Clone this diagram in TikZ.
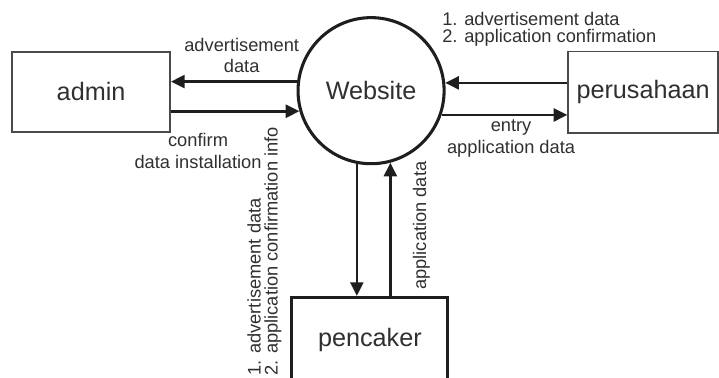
\documentclass[tikz,border=0pt]{standalone}
\usepackage{fontspec}
\setmainfont{Liberation Sans}
\usetikzlibrary{arrows.meta, positioning, calc}

\definecolor{dfdline}{HTML}{1E1E1E}
\definecolor{dfdtext}{HTML}{303030}
\definecolor{dfdbox}{HTML}{4A4A4A}

\tikzset{
  entity/.style={
    draw=dfdbox, line width=1.2pt, fill=white, text=dfdtext,
    font=\fontsize{18.9}{22}\selectfont
  },
  proc/.style={
    circle, draw=dfdline, line width=2.3pt, fill=white, text=dfdtext,
    minimum size=3.85cm, inner sep=0pt, font=\fontsize{18.9}{22}\selectfont
  },
  flow/.style={-{Triangle[length=0.36cm, width=0.34cm]}, line width=2pt, draw=dfdline},
  lbl/.style={inner sep=0pt, align=center, text=dfdtext, font=\fontsize{13.7}{16}\selectfont},
  list/.style={align=left, font=\fontsize{13.7}{12.75}\selectfont}
}

\begin{document}
\begin{tikzpicture}
  \useasboundingbox (0,0) rectangle (18.95,9.96);

  % the system in the middle
  \node[proc] (web) at (9.78,7.57) {Website};

  % external entities
  \node[entity, minimum width=4.17cm, minimum height=2.11cm] (admin) at (2.40,7.54) {admin};
  \node[entity, minimum width=3.95cm, minimum height=2.14cm] (perusahaan) at (16.95,7.53) {perusahaan};
  \node[entity, draw=dfdline, line width=2.3pt, minimum width=4.11cm, inner ysep=0pt,
        text height=1.29cm, text depth=1.2cm, anchor=north] (pencaker) at (9.75,2.16) {pencaker};

  % data flows
  \draw[flow] (web.173.7) -- (web.173.7 -| admin.east);
  \draw[flow] (web.196.7 -| admin.east) -- (web.196.7);
  \draw[flow] (web.6.3 -| perusahaan.west) -- (web.6.3);
  \draw[flow] (web.341.6) -- (web.341.6 -| perusahaan.west);
  \draw[flow] (web.259.7) -- (web.259.7 |- pencaker.north);
  \draw[flow] (web.285.1 |- pencaker.north) -- (web.285.1);

  % flow labels
  \node[lbl] (adminOut) at (6.37,8.49) {advertisement\\data};
  \node[lbl] (adminIn) at (5.22,5.98) {confirm\\data installation};
  \node[lbl, list, anchor=north west] (perusahaanIn) at (11.65,9.65)
    {1. advertisement data\\2. application confirmation};
  \node[lbl] (perusahaanOut) at (13.47,6.31) {entry\\application data};
  \node[lbl, list, rotate=90, anchor=north west] (pencakerIn) at (6.51,0.05)
    {1. advertisement data\\2. application confirmation info};
  \node[lbl, rotate=90, anchor=base west] (pencakerOut) at (11.23,2.32) {application data};
\end{tikzpicture}
\end{document}
